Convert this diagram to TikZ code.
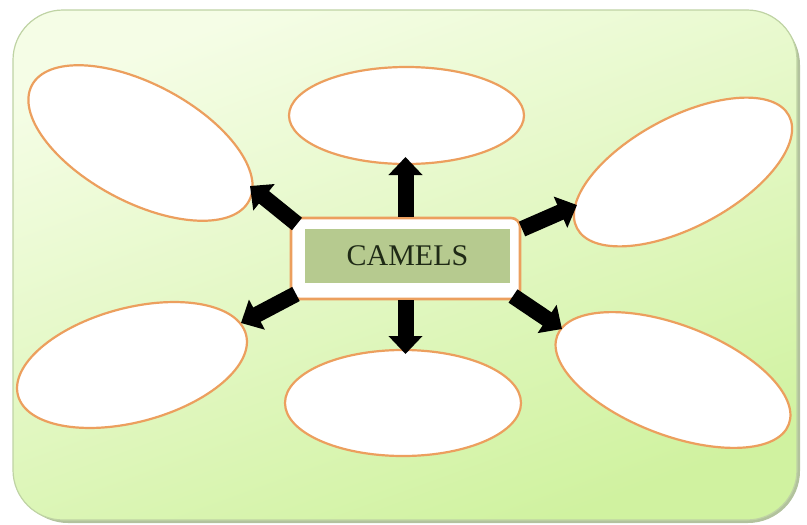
\documentclass[tikz,border=0pt]{standalone}
\usepackage{fontspec}
\setmainfont{Liberation Serif}
\usetikzlibrary{shapes.geometric,arrows.meta}
\definecolor{bgtop}{HTML}{F5FDE6}
\definecolor{bgbot}{HTML}{D0F2A0}
\definecolor{bgedge}{HTML}{BFD3A4}
\definecolor{orangeline}{HTML}{EC9F5E}
\definecolor{labelgreen}{HTML}{B6CA8F}
\definecolor{textdark}{HTML}{1F2A16}
\tikzset{
  bubble/.style={ellipse, draw=orangeline, line width=2.2pt, fill=white, inner sep=0pt},
  bigarrow/.style={draw=black, line width=16pt, -{Triangle[width=33pt,length=18pt]}},
}
\begin{document}
\begin{tikzpicture}[x=1pt,y=-1pt]
\useasboundingbox (0,0) rectangle (807,525);
% background panel
\fill[bgedge!80!gray, rounded corners=52pt] (16,13) rectangle (800,523);
\shade[top color=bgtop, bottom color=bgbot, shading angle=20, rounded corners=50pt, draw=bgedge, line width=1.2pt]
  (13,10) rectangle (797,520);
\node[draw=none, inner sep=0pt, minimum width=784, minimum height=510] (bg) at (405,265) {};
% ellipses
\node[bubble, minimum width=246, minimum height=118, rotate=-28] (e1) at (140.5,143) {};
\node[bubble, minimum width=235, minimum height=97] (e2) at (406.5,115.5) {};
\node[bubble, minimum width=240, minimum height=110, rotate=28] (e3) at (683,172) {};
\node[bubble, minimum width=236, minimum height=114, rotate=15] (e4) at (132,365) {};
\node[bubble, minimum width=236, minimum height=106] (e5) at (403,403) {};
\node[bubble, minimum width=248, minimum height=110, rotate=-21] (e6) at (673,380) {};
% central box
\node[draw=orangeline, line width=2.6pt, fill=white, rounded corners=9pt,
      minimum width=229, minimum height=81, inner sep=0pt] (box) at (405.5,258.5) {};
\node[fill=labelgreen, minimum width=205, minimum height=54, inner sep=0pt,
      text=textdark, font=\fontsize{30}{30}\selectfont] (lbl) at (407.5,256) {CAMELS};
% arrow tips
\coordinate (tU) at (405.5,157);
\coordinate (tD) at (405.5,354);
\coordinate (tUL) at (250,186);
\coordinate (tLL) at (241,323);
\coordinate (tUR) at (577,205);
\coordinate (tLR) at (562,329);
\coordinate (sUL) at (297,224);
\coordinate (sLL) at (296,294);
\coordinate (sUR) at (522,229);
\coordinate (sLR) at (513,296);
% arrows
\draw[bigarrow] (box.north) -- (tU);
\draw[bigarrow] (box.south) -- (tD);
\draw[bigarrow] (sUL) -- (tUL);
\draw[bigarrow] (sLL) -- (tLL);
\draw[bigarrow] (sUR) -- (tUR);
\draw[bigarrow] (sLR) -- (tLR);
\end{tikzpicture}
\end{document}
